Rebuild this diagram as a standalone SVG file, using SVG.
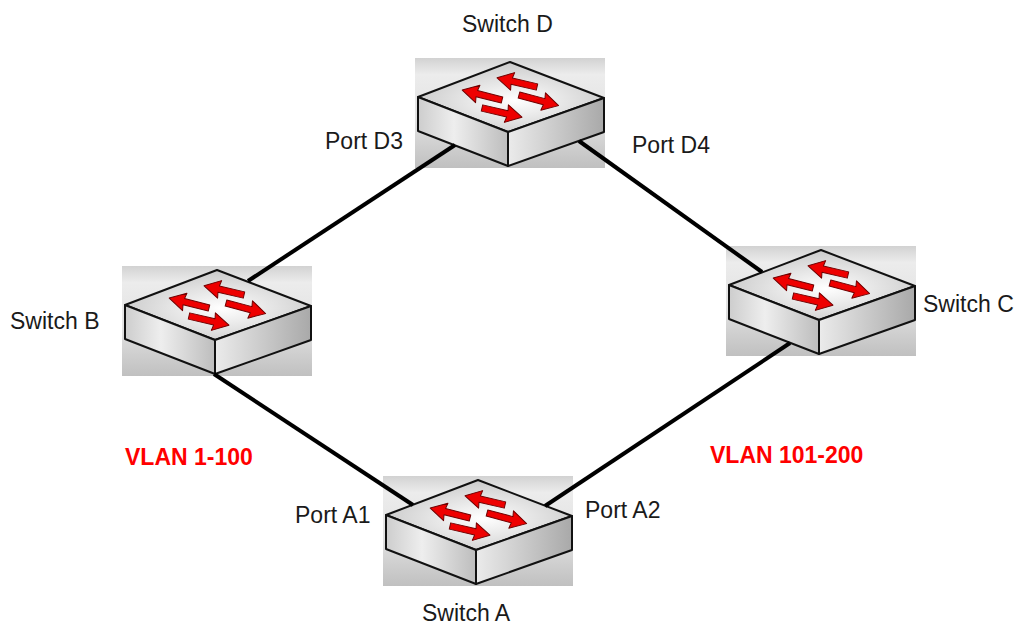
<svg xmlns="http://www.w3.org/2000/svg" xmlns:xlink="http://www.w3.org/1999/xlink" width="1019" height="624" viewBox="0 0 1019 624">
<style>
.lbl{font-family:"Liberation Sans",Arial,sans-serif;font-size:23px;fill:#1a1a1a}
.vlan{font-family:"Liberation Sans",Arial,sans-serif;font-size:23px;font-weight:bold;fill:#ff0000}
.face{stroke:#111;stroke-width:2;stroke-linejoin:round}
.link{stroke:#000;stroke-width:4;fill:none}
</style>
<defs>
<linearGradient id="bg" x1="0" y1="0" x2="0" y2="1">
<stop offset="0" stop-color="#d2d2d2"/>
<stop offset="0.15" stop-color="#ececec"/>
<stop offset="0.55" stop-color="#e2e2e2"/>
<stop offset="1" stop-color="#c0c0c0"/>
</linearGradient>
<radialGradient id="topg" cx="0.52" cy="0.55" r="0.6">
<stop offset="0" stop-color="#ffffff"/>
<stop offset="1" stop-color="#c6c6c6"/>
</radialGradient>
<linearGradient id="lf" x1="0" y1="0" x2="1" y2="0">
<stop offset="0" stop-color="#cdcdcd"/>
<stop offset="0.4" stop-color="#eeeeee"/>
<stop offset="1" stop-color="#bdbdbd"/>
</linearGradient>
<linearGradient id="rf" x1="0" y1="0" x2="1" y2="0">
<stop offset="0" stop-color="#ebebeb"/>
<stop offset="1" stop-color="#a9a9a9"/>
</linearGradient>
<path id="arr" d="M0,-3.2 L26,-3.2 L25,-9 L41,0 L25,9 L26,3.2 L0,3.2 Z" fill="#ee0000" stroke="#700000" stroke-width="1" stroke-linejoin="round"/>
<g id="sw">
<rect x="-95" y="-4" width="190" height="110" fill="url(#bg)"/>
<polygon class="face" points="0,0 94,36 -2,70 -92,35" fill="url(#topg)"/>
<polygon class="face" points="-92,35 -2,70 -2,104 -92,69" fill="url(#lf)"/>
<polygon class="face" points="-2,70 94,36 94,70 -2,104" fill="url(#rf)"/>
<use xlink:href="#arr" transform="translate(27,25) rotate(193)"/>
<use xlink:href="#arr" transform="translate(-8,38) rotate(194)"/>
<use xlink:href="#arr" transform="translate(9,33) rotate(15)"/>
<use xlink:href="#arr" transform="translate(-28,46) rotate(13)"/>
</g>
</defs>
<rect width="1019" height="624" fill="#ffffff"/>
<g id="switch-d">
<use xlink:href="#sw" transform="translate(510,62)"/>
<text class="lbl" x="462" y="32">Switch D</text>
<text class="lbl" x="325" y="149">Port D3</text>
<text class="lbl" x="632" y="153">Port D4</text>
</g>
<g id="switch-b">
<use xlink:href="#sw" transform="translate(217,270)"/>
<text class="lbl" x="10" y="329">Switch B</text>
</g>
<g id="switch-c">
<use xlink:href="#sw" transform="translate(821,250)"/>
<text class="lbl" x="923" y="312">Switch C</text>
</g>
<g id="switch-a">
<use xlink:href="#sw" transform="translate(478,480)"/>
<text class="lbl" x="422" y="621">Switch A</text>
<text class="lbl" x="295" y="523">Port A1</text>
<text class="lbl" x="585" y="518">Port A2</text>
</g>
<g id="vlan-labels">
<text class="vlan" x="125" y="465">VLAN 1-100</text>
<text class="vlan" x="710" y="463">VLAN 101-200</text>
</g>
<g id="connectors">
<line class="link" x1="248" y1="281" x2="455" y2="145"/>
<line class="link" x1="579" y1="141" x2="762" y2="272"/>
<line class="link" x1="214" y1="374" x2="413" y2="505"/>
<line class="link" x1="545" y1="506" x2="790" y2="343"/>
</g>
</svg>
